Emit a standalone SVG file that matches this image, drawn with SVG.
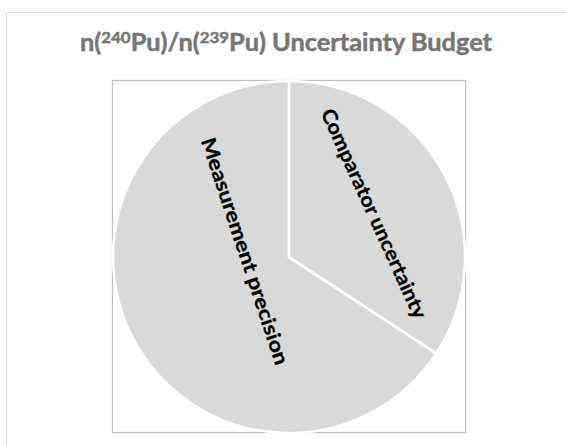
<svg xmlns="http://www.w3.org/2000/svg" width="566" height="445" viewBox="0 0 566 445">
<style>
.title{font-family:Lato,"Open Sans","Liberation Sans",sans-serif;font-weight:bold;font-size:24px;fill:#767676;stroke:#767676;stroke-width:0.5}
.lbl{font-family:Lato,"Open Sans","Liberation Sans",sans-serif;font-weight:bold;font-size:20px;fill:#000;stroke:#000;stroke-width:0.3}
.slice{fill:#d9d9d9;stroke:#fff;stroke-width:2.5;stroke-linejoin:miter}
</style>
<rect width="566" height="445" fill="#fff"/>
<rect x="6.5" y="12.5" width="620" height="520" fill="none" stroke="#dcdcdc" stroke-width="1"/>
<g id="title">
<text class="title" x="80" y="51" textLength="412" lengthAdjust="spacingAndGlyphs">n(<tspan font-size="16" dy="-8">240</tspan><tspan dy="8">Pu)/n(</tspan><tspan font-size="16" dy="-8">239</tspan><tspan dy="8">Pu) Uncertainty Budget</tspan></text>
</g>
<rect id="plot-area" x="112.5" y="80.5" width="353" height="352" fill="none" stroke="#bfbfbf" stroke-width="1.2"/>
<g id="slice-measurement">
<path class="slice" d="M289,257 L436.3,353.4 A176,176 0 1 1 289,81 Z"/>
</g>
<g id="slice-comparator">
<path class="slice" d="M289,257 L289,81 A176,176 0 0 1 436.3,353.4 Z"/>
</g>
<g id="labels">
<text class="lbl" text-anchor="middle" transform="translate(244,251.5) rotate(71.6)" x="0" y="6" textLength="238" lengthAdjust="spacingAndGlyphs">Measurement precision</text>
<text class="lbl" text-anchor="middle" transform="translate(373,214) rotate(65.6)" x="0" y="6" textLength="228" lengthAdjust="spacingAndGlyphs">Comparator uncertainty</text>
</g>
<g id="connectors"></g>
</svg>
